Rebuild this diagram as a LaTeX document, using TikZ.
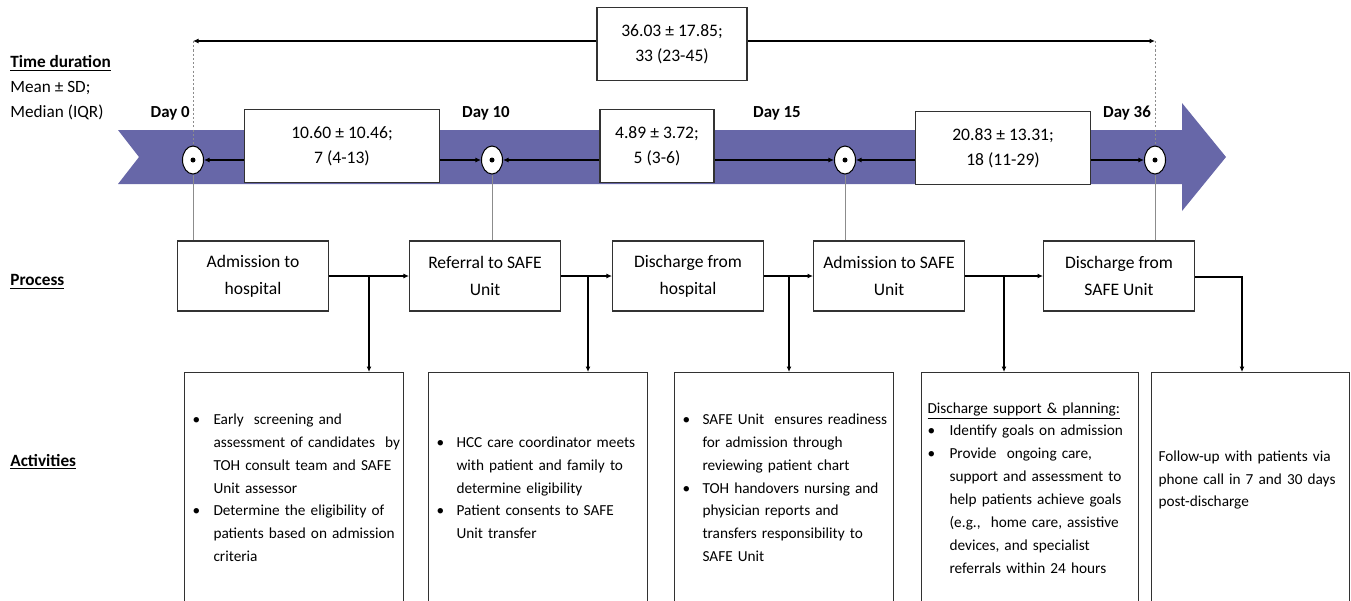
\documentclass[tikz,border=0pt]{standalone}
\usepackage{fontspec}
\setmainfont{Carlito}
\usetikzlibrary{shapes.geometric, arrows.meta, positioning, calc}
\definecolor{bandpurple}{RGB}{103,103,168}
\definecolor{linegray}{RGB}{50,50,50}
\definecolor{softgray}{RGB}{140,140,140}
\newcommand{\actfont}{\fontsize{8.7}{13}\selectfont}

\begin{document}
\begin{tikzpicture}[x=0.02cm, y=-0.02cm,
    procbox/.style={rectangle, draw=linegray, line width=0.6pt, fill=white, minimum width=3.02cm, minimum height=1.4cm, align=center, font=\fontsize{10}{15.4}\selectfont, inner sep=0pt},
    statbox/.style={rectangle, draw=linegray, line width=0.6pt, fill=white, minimum height=1.46cm, align=center, font=\fontsize{10}{14.2}\selectfont, inner sep=0pt},
    actbox/.style={rectangle, draw=linegray, line width=0.6pt, anchor=north west, minimum height=4.64cm, inner xsep=0.16cm, align=left, font=\actfont},
    daymark/.style={ellipse, draw=black, line width=0.6pt, fill=white, minimum width=0.42cm, minimum height=0.56cm, inner sep=0pt, path picture={\fill[black] (path picture bounding box.center) circle (0.05cm);}},
    daylabel/.style={font=\fontsize{9.6}{11}\selectfont\bfseries, inner sep=0pt},
    rowlabel/.style={font=\fontsize{9.8}{14.2}\selectfont, anchor=west, align=left, inner sep=0pt},
    arrow/.style={-{Latex[length=1.1mm, width=1mm]}, line width=0.8pt, black},
    vline/.style={softgray, line width=0.5pt},
    dotline/.style={softgray, line width=0.4pt, dash pattern=on 1.2pt off 1.2pt}
]
\useasboundingbox (0,0) rectangle (1351,600);

% Timeline band
\fill[bandpurple] (118,130) -- (1182,130) -- (1182,103) -- (1226,157) -- (1182,211) -- (1182,184) -- (118,184) -- (139,157) -- cycle;

% Row labels
\node[rowlabel] (ltime) at (10,88) {\textbf{\underline{Time duration}}\\Mean ± SD;\\Median (IQR)};
\node[rowlabel, font=\fontsize{9.8}{12}\selectfont\bfseries] (lproc) at (10,282) {\underline{Process}};
\node[rowlabel, font=\fontsize{9.8}{12}\selectfont\bfseries] (lact) at (10,462) {\underline{Activities}};

% Day marks
\node[daymark] (d0) at (193,160) {};
\node[daymark] (d10) at (492,160) {};
\node[daymark] (d15) at (845,160) {};
\node[daymark] (d36) at (1155,160) {};
\node[daylabel, anchor=east] (l0) at (190,113) {Day 0};
\node[daylabel] (l10) at (486,113) {Day 10};
\node[daylabel] (l15) at (777,113) {Day 15};
\node[daylabel] (l36) at (1127,113) {Day 36};

% Durations
\node[statbox, minimum width=3.9cm] (n1) at (342,146) {10.60 ± 10.46;\\7 (4-13)};
\node[statbox, minimum width=2.28cm] (n2) at (657,146) {4.89 ± 3.72;\\5 (3-6)};
\node[statbox, minimum width=3.5cm] (n3) at (1003,148) {20.83 ± 13.31;\\18 (11-29)};
\node[statbox, minimum width=3cm] (ntot) at (672,44) {36.03 ± 17.85;\\33 (23-45)};

\coordinate (t0) at (193,41);
\coordinate (t36) at (1155,41);
\draw[arrow] (ntot.west |- t0) -- (t0);
\draw[arrow] (ntot.east |- t36) -- (t36);
\draw[dotline] (t0) -- (d0.north);
\draw[dotline] (t36) -- (d36.north);

\draw[arrow] (n1.west |- d0) -- (d0);
\draw[arrow] (n1.east |- d10) -- (d10);
\draw[arrow] (n2.west |- d10) -- (d10);
\draw[arrow] (n2.east |- d15) -- (d15);
\draw[arrow] (n3.west |- d15) -- (d15);
\draw[arrow] (n3.east |- d36) -- (d36);

% Process
\node[procbox] (p1) at (253,276) {Admission to\\hospital};
\node[procbox] (p2) at (485,276) {Referral to SAFE\\Unit};
\node[procbox] (p3) at (688,276) {Discharge from\\hospital};
\node[procbox] (p4) at (889,276) {Admission to SAFE\\Unit};
\node[procbox] (p5) at (1119,276) {Discharge from\\SAFE Unit};

\draw[vline] (d0.south) -- (d0 |- p1.north);
\draw[vline] (d10.south) -- (d10 |- p2.north);
\draw[vline] (d15.south) -- (d15 |- p4.north);
\draw[vline] (d36.south) -- (d36 |- p5.north);

% Activities
\node[actbox, text width=4.06cm] (a1) at (184,372) {\begin{tabular}{@{}p{0.42cm}@{}l@{}}
\textbullet & Early\ \ screening and\\
 & assessment of candidates\ \ by\\
 & TOH consult team and SAFE\\
 & Unit assessor\\
\textbullet & Determine the eligibility of\\
 & patients based on admission\\
 & criteria
\end{tabular}};
\node[actbox, text width=4.06cm] (a2) at (428,372) {\begin{tabular}{@{}p{0.4cm}@{}l@{}}
\textbullet & HCC care coordinator meets\\
 & with patient and family to\\
 & determine eligibility\\
\textbullet & Patient consents to SAFE\\
 & Unit transfer
\end{tabular}};
\node[actbox, text width=4.06cm] (a3) at (674,372) {\begin{tabular}{@{}p{0.4cm}@{}l@{}}
\textbullet & SAFE Unit\ \ ensures readiness\\
 & for admission through\\
 & reviewing patient chart\\
\textbullet & TOH handovers nursing and\\
 & physician reports and\\
 & transfers responsibility to\\
 & SAFE Unit
\end{tabular}};
\node[actbox, text width=4.1cm, inner xsep=0.12cm] (a4) at (921,372) {\begin{tabular}{@{}p{0.44cm}@{}l@{}}
\multicolumn{2}{@{}l@{}}{\underline{Discharge support \& planning:}}\\
\textbullet & Identify goals on admission\\
\textbullet & Provide\ \ ongoing care,\\
 & support and assessment to\\
 & help patients achieve goals\\
 & (e.g.,\ \ home care, assistive\\
 & devices, and specialist\\
 & referrals within 24 hours
\end{tabular}};
\node[actbox, text width=3.68cm, inner xsep=0.14cm] (a5) at (1151,372) {\begin{tabular}{@{}l@{}}
Follow-up with patients via\\
phone call in 7 and 30 days\\
post-discharge\\[0.36cm]
\end{tabular}};

% Flow
\coordinate (b1) at (369,276);
\coordinate (b2) at (588,276);
\coordinate (b3) at (789,276);
\coordinate (b4) at (1004,276);
\coordinate (b5) at (1242,277);
\draw[arrow] (p1) -- (p2);
\draw[arrow] (p2) -- (p3);
\draw[arrow] (p3) -- (p4);
\draw[arrow] (p4) -- (p5);
\draw[arrow] (b1) -- (b1 |- a1.north);
\draw[arrow] (b2) -- (b2 |- a2.north);
\draw[arrow] (b3) -- (b3 |- a3.north);
\draw[arrow] (b4) -- (b4 |- a4.north);
\draw[arrow] (p5.east |- b5) -- (b5) -- (b5 |- a5.north);

\end{tikzpicture}
\end{document}
